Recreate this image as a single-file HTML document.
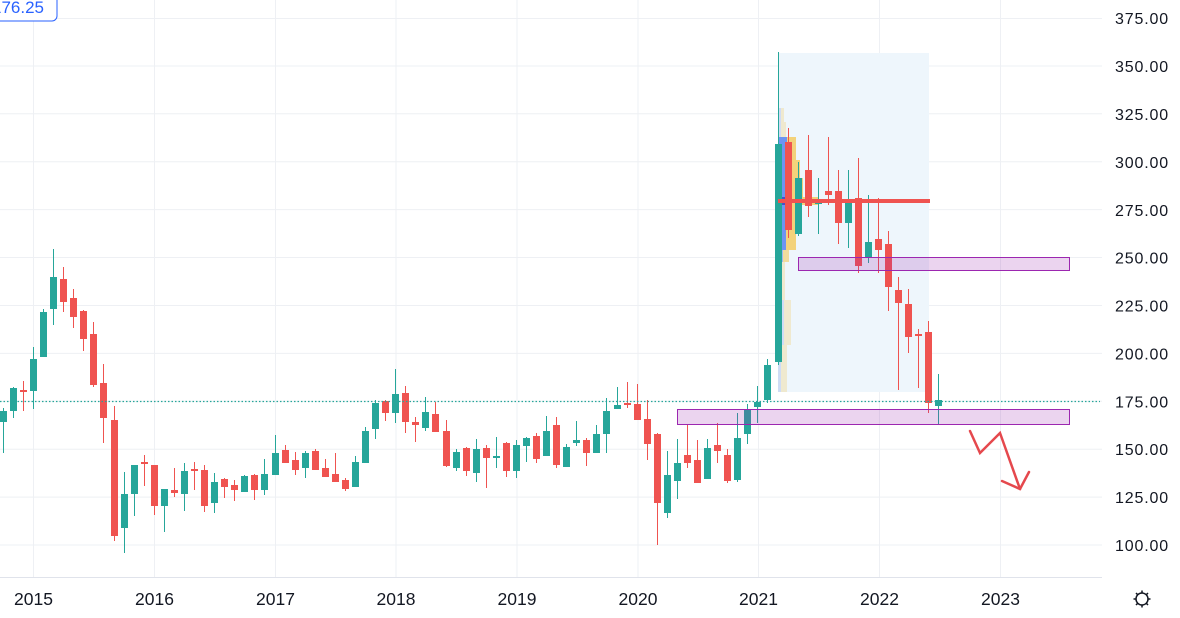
<!DOCTYPE html>
<html>
<head>
<meta charset="utf-8">
<style>
html,body{margin:0;padding:0;background:#fff;}
body{width:1180px;height:618px;overflow:hidden;}
svg{display:block;}
.pl{font-family:"Liberation Sans",sans-serif;font-size:16px;fill:#131722;letter-spacing:0.85px;}
.yl{font-family:"Liberation Sans",sans-serif;font-size:17.5px;fill:#131722;}
</style>
</head>
<body>
<svg width="1180" height="618" viewBox="0 0 1180 618" xmlns="http://www.w3.org/2000/svg">
<g stroke="#eef0f4" stroke-width="1">
<path d="M0 18.5H1102M0 66H1102M0 113.8H1102M0 161.7H1102M0 209.6H1102M0 257.5H1102M0 305.5H1102M0 353.4H1102M0 401.3H1102M0 449.2H1102M0 497.1H1102M0 545H1102"/>
<path d="M33.5 0V577M154.5 0V577M275.5 0V577M396 0V577M517 0V577M638 0V577M758.5 0V577M879.5 0V577M1000.5 0V577"/>
</g>
<line x1="0" x2="1102" y1="577.5" y2="577.5" stroke="#e0e3eb" stroke-width="1"/>

<rect x="778" y="53" width="151" height="339" fill="#eef6fc"/>

<g>
<rect x="778" y="108" width="3" height="14" fill="#cfdcf5"/><rect x="781" y="108" width="3" height="14" fill="#efe9cf"/>
<rect x="778" y="122" width="3" height="15" fill="#cfdcf5"/><rect x="781" y="122" width="5" height="15" fill="#efe9cf"/>
<rect x="778" y="137" width="9" height="23" fill="#6d94f2"/><rect x="787" y="137" width="9" height="23" fill="#f3d27a"/>
<rect x="778" y="160" width="9" height="18" fill="#6d94f2"/><rect x="787" y="160" width="13" height="18" fill="#f3d27a"/>
<rect x="778" y="178" width="9" height="19" fill="#6d94f2"/><rect x="787" y="178" width="16" height="19" fill="#f3d27a"/>
<rect x="778" y="197" width="14" height="8" fill="#4a50c8"/><rect x="792" y="197" width="26" height="8" fill="#f3d27a"/>
<rect x="778" y="205" width="9" height="23" fill="#6d94f2"/><rect x="787" y="205" width="9" height="23" fill="#f3d27a"/>
<rect x="778" y="228" width="8" height="22" fill="#6d94f2"/><rect x="786" y="228" width="10" height="22" fill="#f3d27a"/>
<rect x="778" y="250" width="5" height="12" fill="#9fb8f0"/><rect x="783" y="250" width="6" height="12" fill="#f1dc9d"/>
<rect x="778" y="262" width="3" height="38" fill="#cfdcf5"/><rect x="781" y="262" width="4" height="38" fill="#efe9cf"/>
<rect x="778" y="300" width="6" height="45" fill="#cfdcf5"/><rect x="784" y="300" width="7" height="45" fill="#efe9cf"/>
<rect x="778" y="345" width="3" height="47" fill="#cfdcf5"/><rect x="781" y="345" width="6" height="47" fill="#efe9cf"/>
</g>

<g fill="#26a69a">
<path stroke="#26a69a" stroke-width="1" fill="none" d="M3.5 408V453M13.5 387V418M33.5 347V409M43.5 309V357M53.5 249V325M124.5 472V553M134.5 465V516M164.5 489V532M184.5 463V511M214.5 473V513M244.5 475V492M264.5 459V495M275.5 435V475M305.5 451V478M355.5 456V487M365.5 427V463M375.5 400V439M395.5 369V423M425.5 397V431M456.5 449V471M476.5 439V482M496.5 437V468M516.5 440V478M526.5 437V462M546.5 416V456M566.5 444V467M576.5 421V446M596.5 425V453M606.5 398V453M617.5 387V409M667.5 451V518M677.5 439V499M707.5 439V479M737.5 413V482M747.5 404V444M757.5 386V423M767.5 359V403M778.5 52V365M798.5 162V236M818.5 178V234M848.5 170V248M868.5 195V263M938.5 374V425"/>
<rect x="0" y="411" width="7" height="11"/>
<rect x="10" y="388" width="7" height="23"/>
<rect x="30" y="359" width="7" height="32"/>
<rect x="40" y="312" width="7" height="45"/>
<rect x="50" y="277" width="7" height="32"/>
<rect x="121" y="494" width="7" height="34"/>
<rect x="131" y="465" width="7" height="29"/>
<rect x="161" y="489" width="7" height="17"/>
<rect x="181" y="471" width="7" height="23"/>
<rect x="211" y="482" width="7" height="21"/>
<rect x="241" y="476" width="7" height="16"/>
<rect x="261" y="474" width="7" height="16"/>
<rect x="272" y="453" width="7" height="22"/>
<rect x="302" y="453" width="7" height="15"/>
<rect x="352" y="462" width="7" height="25"/>
<rect x="362" y="431" width="7" height="32"/>
<rect x="372" y="403" width="7" height="26"/>
<rect x="392" y="394" width="7" height="19"/>
<rect x="422" y="412" width="7" height="16"/>
<rect x="453" y="452" width="7" height="16"/>
<rect x="473" y="449" width="7" height="24"/>
<rect x="493" y="456" width="7" height="2"/>
<rect x="513" y="445" width="7" height="26"/>
<rect x="523" y="438" width="7" height="8"/>
<rect x="543" y="431" width="7" height="25"/>
<rect x="563" y="447" width="7" height="20"/>
<rect x="573" y="440" width="7" height="3"/>
<rect x="593" y="434" width="7" height="19"/>
<rect x="603" y="411" width="7" height="23"/>
<rect x="614" y="405" width="7" height="4"/>
<rect x="664" y="475" width="7" height="38"/>
<rect x="674" y="463" width="7" height="18"/>
<rect x="704" y="448" width="7" height="31"/>
<rect x="734" y="438" width="7" height="42"/>
<rect x="744" y="409" width="7" height="25"/>
<rect x="754" y="402" width="7" height="5"/>
<rect x="764" y="365" width="7" height="35"/>
<rect x="775" y="144" width="7" height="218"/>
<rect x="795" y="178" width="7" height="56"/>
<rect x="815" y="200" width="7" height="4"/>
<rect x="845" y="199" width="7" height="24"/>
<rect x="865" y="242" width="7" height="16"/>
<rect x="935" y="400" width="7" height="6"/>
</g>

<g fill="#ef5350">
<path stroke="#ef5350" stroke-width="1" fill="none" d="M23.5 381V411M63.5 267V312M73.5 289V328M83.5 310V351M93.5 322V387M103.5 364V443M114.5 406V541M144.5 455V486M154.5 465V515M174.5 468V497M194.5 462V490M204.5 465V512M224.5 478V498M234.5 480V501M254.5 474V500M285.5 445V463M295.5 452V475M315.5 449V470M325.5 459V477M335.5 453V482M345.5 478V491M385.5 400V421M405.5 386V433M415.5 417V442M435.5 402V432M446.5 420V467M466.5 447V476M486.5 445V488M506.5 442V477M536.5 433V463M556.5 417V468M586.5 438V466M627.5 382V408M637.5 384V420M647.5 400V460M657.5 433V545M687.5 424V468M697.5 440V483M717.5 423V463M727.5 449V483M788.5 128V238M808.5 135V217M828.5 137V205M838.5 170V244M858.5 158V273M878.5 198V273M888.5 231V311M898.5 277V390M908.5 289V353M918.5 329V388M928.5 321V413"/>
<rect x="20" y="390" width="7" height="2"/>
<rect x="60" y="279" width="7" height="23"/>
<rect x="70" y="298" width="7" height="19"/>
<rect x="80" y="311" width="7" height="28"/>
<rect x="90" y="334" width="7" height="51"/>
<rect x="100" y="383" width="7" height="35"/>
<rect x="111" y="420" width="7" height="116"/>
<rect x="141" y="462" width="7" height="2"/>
<rect x="151" y="465" width="7" height="41"/>
<rect x="171" y="490" width="7" height="3"/>
<rect x="191" y="469" width="7" height="2"/>
<rect x="201" y="470" width="7" height="36"/>
<rect x="221" y="479" width="7" height="8"/>
<rect x="231" y="485" width="7" height="5"/>
<rect x="251" y="475" width="7" height="15"/>
<rect x="282" y="450" width="7" height="13"/>
<rect x="292" y="460" width="7" height="10"/>
<rect x="312" y="451" width="7" height="19"/>
<rect x="322" y="468" width="7" height="9"/>
<rect x="332" y="474" width="7" height="8"/>
<rect x="342" y="480" width="7" height="9"/>
<rect x="382" y="401" width="7" height="12"/>
<rect x="402" y="393" width="7" height="29"/>
<rect x="412" y="422" width="7" height="3"/>
<rect x="432" y="414" width="7" height="18"/>
<rect x="443" y="431" width="7" height="35"/>
<rect x="463" y="448" width="7" height="23"/>
<rect x="483" y="448" width="7" height="10"/>
<rect x="503" y="443" width="7" height="28"/>
<rect x="533" y="436" width="7" height="23"/>
<rect x="553" y="425" width="7" height="40"/>
<rect x="583" y="440" width="7" height="13"/>
<rect x="624" y="403" width="7" height="2"/>
<rect x="634" y="404" width="7" height="16"/>
<rect x="644" y="419" width="7" height="25"/>
<rect x="654" y="434" width="7" height="69"/>
<rect x="684" y="455" width="7" height="8"/>
<rect x="694" y="460" width="7" height="23"/>
<rect x="714" y="445" width="7" height="6"/>
<rect x="724" y="455" width="7" height="26"/>
<rect x="785" y="142" width="7" height="88"/>
<rect x="805" y="170" width="7" height="36"/>
<rect x="825" y="191" width="7" height="4"/>
<rect x="835" y="191" width="7" height="32"/>
<rect x="855" y="198" width="7" height="68"/>
<rect x="875" y="239" width="7" height="11"/>
<rect x="885" y="244" width="7" height="43"/>
<rect x="895" y="290" width="7" height="13"/>
<rect x="905" y="304" width="7" height="33"/>
<rect x="915" y="334" width="7" height="2"/>
<rect x="925" y="332" width="7" height="71"/>
</g>

<rect x="778" y="199" width="152" height="4" fill="#ef5350"/>

<rect x="798.5" y="257.5" width="271" height="13" fill="rgba(156,39,176,0.2)" stroke="#9c27b0" stroke-width="1"/>
<rect x="677.5" y="409.5" width="392" height="15" fill="rgba(156,39,176,0.2)" stroke="#9c27b0" stroke-width="1"/>

<line x1="0" x2="1100" y1="401.5" y2="401.5" stroke="#26a69a" stroke-width="1.2" stroke-dasharray="1.5 2"/>

<g stroke="#e5484d" stroke-width="2.5" fill="none" stroke-linecap="round">
<polyline points="970,431 980,453 1000,433 1020,489"/>
<polyline points="1002,481 1020,489 1029,472"/>
</g>

<rect x="-10" y="-10" width="67" height="31" rx="5" ry="5" fill="#fff" stroke="#2962ff" stroke-width="1"/>
<text x="44" y="13" text-anchor="end" font-family="Liberation Sans, sans-serif" font-size="17" fill="#2962ff">176.25</text>

<text class="pl" x="1115" y="24">375.00</text>
<text class="pl" x="1115" y="72">350.00</text>
<text class="pl" x="1115" y="120">325.00</text>
<text class="pl" x="1115" y="168">300.00</text>
<text class="pl" x="1115" y="216">275.00</text>
<text class="pl" x="1115" y="263.5">250.00</text>
<text class="pl" x="1115" y="311.5">225.00</text>
<text class="pl" x="1115" y="359.5">200.00</text>
<text class="pl" x="1115" y="407.5">175.00</text>
<text class="pl" x="1115" y="455">150.00</text>
<text class="pl" x="1115" y="503">125.00</text>
<text class="pl" x="1115" y="551">100.00</text>

<text class="yl" x="33.5" y="605" text-anchor="middle">2015</text>
<text class="yl" x="154.5" y="605" text-anchor="middle">2016</text>
<text class="yl" x="275.5" y="605" text-anchor="middle">2017</text>
<text class="yl" x="396" y="605" text-anchor="middle">2018</text>
<text class="yl" x="517" y="605" text-anchor="middle">2019</text>
<text class="yl" x="638" y="605" text-anchor="middle">2020</text>
<text class="yl" x="758.5" y="605" text-anchor="middle">2021</text>
<text class="yl" x="879.5" y="605" text-anchor="middle">2022</text>
<text class="yl" x="1000.5" y="605" text-anchor="middle">2023</text>

<g stroke="#131722" stroke-width="1.5" fill="none">
<circle cx="1142" cy="599" r="6"/>
<path d="M1142 590.5v2.5M1142 605v2.5M1133.5 599h2.5M1148 599h2.5M1136 593l1.8 1.8M1146.2 603.2l1.8 1.8M1148 593l-1.8 1.8M1137.8 603.2l-1.8 1.8"/>
</g>
</svg>
</body>
</html>
